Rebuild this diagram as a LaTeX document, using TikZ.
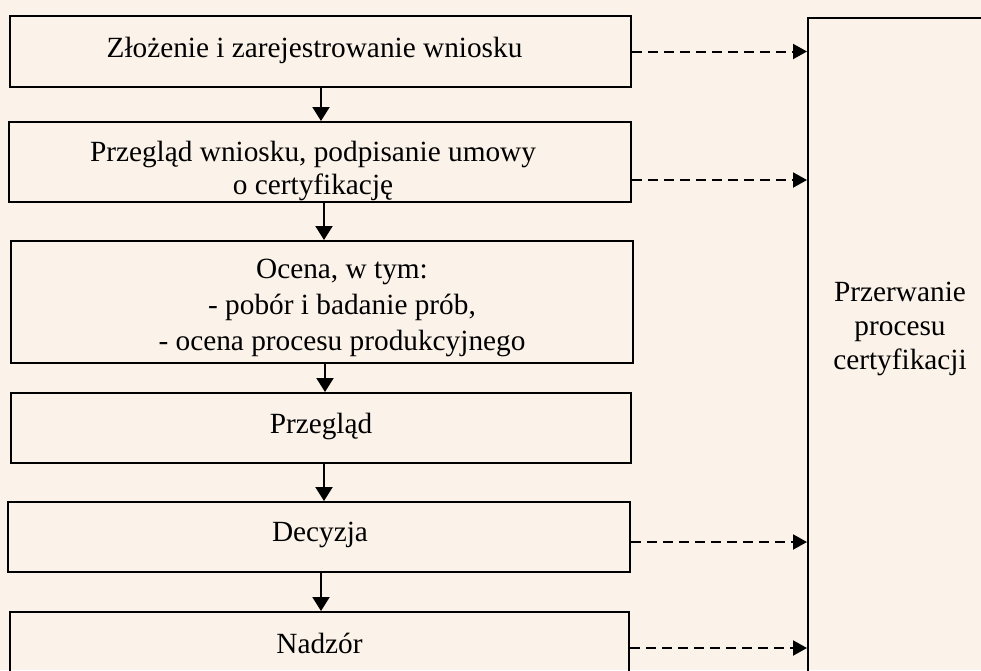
\documentclass[tikz,border=0pt]{standalone}
\usepackage{fontspec}
\setmainfont{Liberation Serif}
\usetikzlibrary{arrows.meta,calc}
\definecolor{bgc}{RGB}{251,242,233}
\newcommand{\shifttext}[3]{\raisebox{#2}[\height][\depth]{\hspace*{#1}#3\hspace*{-#1}}}
\tikzset{
  stepbox/.style={draw=black, line width=2pt, rectangle, inner sep=0pt, align=center,
    font=\fontsize{29.3}{34}\selectfont},
  flow/.style={line width=2pt, -{Triangle[length=14pt,width=17pt]}},
  dflow/.style={line width=2pt, dash pattern=on 10pt off 6pt, -{Triangle[length=14pt,width=15pt]}},
  txt/.style={align=center, font=\fontsize{29.3}{34}\selectfont, inner sep=0pt}
}
\begin{document}
\begin{tikzpicture}[x=1pt,y=-1pt]
\fill[bgc] (0,0) rectangle (981,670);
\useasboundingbox (0,0) rectangle (981,670);
\clip (0,0) rectangle (981,670);
\node[stepbox, minimum width=621pt, minimum height=71pt] (b1) at (320.5,51.5) {\shifttext{-6pt}{1pt}{Złożenie i zarejestrowanie wniosku}};
\node[stepbox, minimum width=622pt, minimum height=80pt] (b2) at (320,162) {\shifttext{-7pt}{-9pt}{\begin{tabular}{@{}c@{}}Przegląd wniosku, podpisanie umowy\\[-1pt] o certyfikację\end{tabular}}};
\node[stepbox, minimum width=622pt, minimum height=122pt] (b3) at (322,302) {\shifttext{20pt}{-6pt}{\begin{tabular}{@{}c@{}}Ocena, w tym:\\[2pt] - pobór i badanie prób,\\[2pt] - ocena procesu produkcyjnego\end{tabular}}};
\node[stepbox, minimum width=620pt, minimum height=70pt] (b4) at (321,428) {\shifttext{0pt}{2pt}{Przegląd}};
\node[stepbox, minimum width=622pt, minimum height=70pt] (b5) at (319,537) {\shifttext{1pt}{2pt}{Decyzja}};
\node[stepbox, minimum width=619pt, minimum height=70pt] (b6) at (319.5,647) {\shifttext{0pt}{4pt}{Nadzór}};
\node[draw=black, line width=2pt, rectangle, minimum width=190pt, minimum height=690pt, anchor=north west] (stop) at (807,17) {};
\node[txt] (stoptxt) at (900,329) {Przerwanie\\procesu\\certyfikacji};
% vertical flow
\draw[flow] ([xshift=0.5pt]b1.south) -- ([xshift=0.5pt]b1.south |- b2.north);
\draw[flow] ([xshift=4pt]b2.south) -- ([xshift=4pt]b2.south |- b3.north);
\draw[flow] ([xshift=3pt]b3.south) -- ([xshift=3pt]b3.south |- b4.north);
\draw[flow] ([xshift=3pt]b4.south) -- ([xshift=3pt]b4.south |- b5.north);
\draw[flow] ([xshift=2pt]b5.south) -- ([xshift=2pt]b5.south |- b6.north);
% dashed to stop
\draw[dflow] (b1.east) -- (b1.east -| stop.west);
\draw[dflow] ([yshift=-18pt]b2.east) -- ([yshift=-18pt]b2.east -| stop.west);
\draw[dflow] ([yshift=-5pt]b5.east) -- ([yshift=-5pt]b5.east -| stop.west);
\draw[dflow] ([yshift=-1pt]b6.east) -- ([yshift=-1pt]b6.east -| stop.west);
\end{tikzpicture}
\end{document}
